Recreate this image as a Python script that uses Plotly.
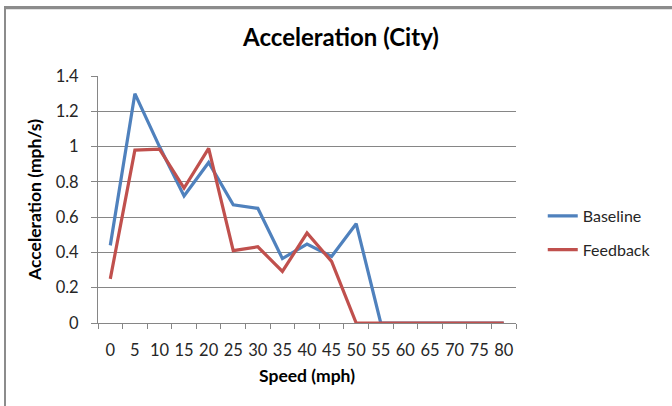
import plotly.graph_objects as go

speeds = ["0", "5", "10", "15", "20", "25", "30", "35", "40", "45", "50",
          "55", "60", "65", "70", "75", "80"]
baseline = [0.44, 1.30, 1.00, 0.72, 0.91, 0.67, 0.65, 0.365, 0.447, 0.377, 0.563,
            0, 0, 0, 0, 0, 0]
feedback = [0.25, 0.98, 0.986, 0.765, 0.99, 0.41, 0.432, 0.292, 0.51, 0.349, 0,
            0, 0, 0, 0, 0, 0]
y_ticks = [0, 0.2, 0.4, 0.6, 0.8, 1, 1.2, 1.4]
y_tick_labels = ["0", "0.2", "0.4", "0.6", "0.8", "1", "1.2", "1.4"]

FONT = "Lato"
TXT = "#262626"
fig = go.Figure()
fig.add_trace(go.Scatter(x=speeds, y=baseline, mode="lines", name="Baseline",
                         line=dict(color="#4F81BD", width=3.2), legendgroup="a"))
fig.add_trace(go.Scatter(x=speeds, y=feedback, mode="lines", name="Feedback",
                         line=dict(color="#C0504D", width=3.2), legendgroup="b"))

fig.update_layout(
    width=672, height=406,
    margin=dict(l=98, r=156, t=76, b=83, autoexpand=False),
    paper_bgcolor="white", plot_bgcolor="white",
    font=dict(family=FONT, size=16, color=TXT),
    title=dict(text="<b>Acceleration (City)</b>", x=341 / 672, xanchor="center",
               xref="container", y=1 - 38 / 406, yanchor="middle",
               font=dict(family=FONT, size=24, color="#000000")),
    showlegend=True,
    legend=dict(x=1.064, y=124 / 247, xanchor="left", yanchor="top",
                traceorder="grouped", tracegroupgap=10,
                font=dict(family=FONT, size=16, color=TXT),
                bgcolor="rgba(0,0,0,0)"),
    xaxis=dict(type="category", range=[-0.5, 16.5], showgrid=False,
               showline=True, linecolor="#868686", linewidth=1,
               ticks="outside", tickson="boundaries", ticklen=5, tickcolor="#868686",
               tickangle=0, automargin=False, ticklabelstandoff=12,
               tickfont=dict(family=FONT, size=16.5, color=TXT),
               title=dict(text="<b>Speed (mph)</b>", standoff=10,
                          font=dict(family=FONT, size=17.5, color="#000000"))),
    yaxis=dict(range=[0, 1.4], tickvals=y_ticks, ticktext=y_tick_labels,
               showgrid=True, gridcolor="#868686", gridwidth=1,
               showline=True, linecolor="#868686", linewidth=1,
               ticks="outside", ticklen=6, tickcolor="#868686", zeroline=False,
               automargin=False, ticklabelstandoff=9,
               tickfont=dict(family=FONT, size=16.5, color=TXT),
               title=dict(text="<b>Acceleration (mph/s)</b>", standoff=9,
                          font=dict(family=FONT, size=17.5, color="#000000"))),
    shapes=[
        dict(type="line", xref="paper", yref="paper",
             x0=-93 / 418, x1=(672 - 98) / 418,
             y0=1 + 68 / 247, y1=1 + 68 / 247,
             line=dict(color="#8c8c8c", width=2.5), layer="above"),
        dict(type="line", xref="paper", yref="paper",
             x0=-93 / 418, x1=-93 / 418,
             y0=-83 / 247, y1=1 + 69 / 247,
             line=dict(color="#8c8c8c", width=2), layer="above"),
    ],
)

post = (
    "document.body.style.margin='0px';"
    "var b=document.createElement('div');"
    "b.style.cssText='position:absolute;left:4px;top:6px;width:700px;height:2px;"
    "background:#8c8c8c;pointer-events:none;z-index:10';"
    "document.body.appendChild(b);"
)
fig.write_html("out.html", config={"displayModeBar": False}, post_script=post)
